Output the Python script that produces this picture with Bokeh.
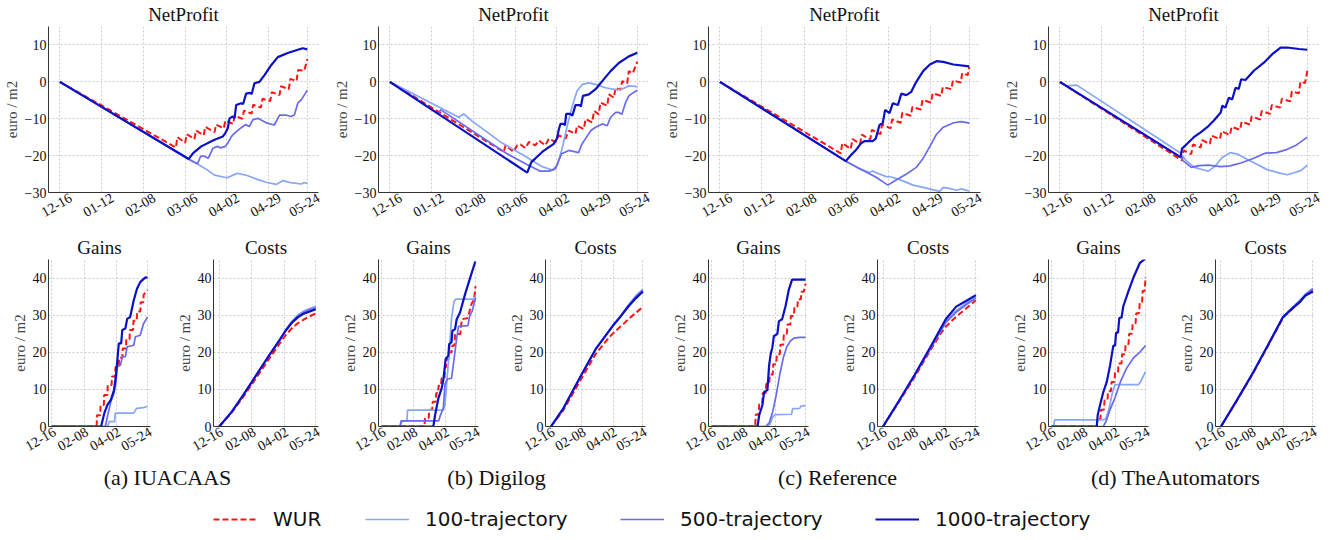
import math
from bokeh.plotting import figure
from bokeh.models import Range1d, FixedTicker, Label, Legend, LegendItem, LinearAxis
from bokeh.layouts import column, row
from bokeh.embed import file_html
from bokeh.resources import INLINE

# ---------------- data (day index from 12-16, value in euro/m2) ----------------
NET_TICKS = [0, 27, 54, 81, 108, 135, 160]
NET_LABELS = ["12-16", "01-12", "02-08", "03-06", "04-02", "04-29", "05-24"]
SUB_TICKS = [0, 54, 108, 160]
SUB_LABELS = ["12-16", "02-08", "04-02", "05-24"]
NET_YTICKS = [-30, -20, -10, 0, 10]
SUB_YTICKS = [0, 10, 20, 30, 40]
SERIES = ["WUR", "100-trajectory", "500-trajectory", "1000-trajectory"]
CAPTIONS = ["(a) IUACAAS", "(b) Digilog", "(c) Reference", "(d) TheAutomators"]

# ---- (a) IUACAAS ----
a_net_wur = [(0,0),(75,-17.8),(76,-15.0),(81,-16.5),(82,-14.2),(87,-15.5),(88,-13.2),(93,-14.5),(94,-12.2),(100,-13.6),(101,-11.6),(106,-12.6),(107,-10.5),(112,-11.4),(113,-9.2),(118,-10.0),(119,-7.8),(124,-8.6),(125,-6.2),(130,-7.0),(131,-4.6),(136,-5.2),(137,-2.8),(142,-3.6),(143,-1.2),(148,-2.0),(149,0.8),(153,0.2),(154,3.2),(158,3.0),(160,6.2)]
a_net_100 = [(0,0),(83,-20.9),(89,-22.3),(95,-23.8),(100,-25.3),(108,-26),(112,-25.3),(115,-24.8),(121,-25.4),(128,-26.5),(134,-27.3),(140,-27.8),(144,-26.8),(149,-27.3),(156,-27.7),(158,-27.3),(160,-27.6)]
a_net_500 = [(0,0),(83,-20.9),(89,-22.2),(91,-20.2),(93,-20.1),(96,-20.7),(99,-18),(102,-17.5),(104,-17.9),(107,-17.5),(108.6,-16.6),(111,-14.8),(113,-13.9),(117,-12.5),(120,-11.6),(122.6,-12.1),(124.7,-10.3),(128,-9.9),(134,-11.2),(138.7,-11.7),(142,-9),(146,-9),(149.5,-9.4),(151.6,-9),(153.8,-5.8),(156,-4.9),(158,-3.6),(160,-2.3)]
a_net_1000 = [(0,0),(83.4,-20.9),(86,-19.4),(91.4,-17.5),(100,-15.7),(105.4,-14.8),(107,-13.9),(108.6,-12.5),(109.7,-9.9),(111.8,-9.4),(112.9,-9.9),(114,-6.3),(117.2,-5.8),(118.5,-6.0),(120.4,-3.2),(123,-3.0),(124,-3.3),(125.8,-0.4),(129,0),(132.3,1.8),(136.6,4.5),(140.9,6.7),(147.3,7.8),(153.8,8.7),(157,9.1),(160,8.8)]
a_gain_wur = [(0,0),(75,0),(75.5,3),(81,3),(81.5,5.8),(87,5.8),(87.5,8.5),(93,8.5),(93.5,11.2),(100,11.2),(100.5,13.5),(106,13.5),(106.5,16),(112,16),(112.5,18.5),(118,18.5),(118.5,21),(124,21),(124.5,23.5),(130,23.5),(130.5,26),(136,26),(136.5,28.5),(142,28.5),(142.5,31),(148,31),(148.5,33.5),(153,33.5),(153.5,35.5),(160,36.8)]
a_gain_100 = [(0,0),(93.3,0),(96,1.3),(105,1.3),(106,3.6),(137,3.6),(142,4.9),(153,5.1),(160,5.4)]
a_gain_500 = [(0,0),(89.5,0),(93,2.7),(98.7,6.7),(104,9),(107,11.6),(109.6,16.1),(115,16.6),(117.8,18.8),(123,18.8),(126,21.5),(137,21.9),(139.7,24.2),(147.8,24.6),(153.3,27.7),(160,29.5)]
a_gain_1000 = [(0,0),(82.4,0),(87.8,3.6),(93,5.8),(98.7,7.2),(104,9.8),(107,13.4),(109.6,17.9),(112,22.4),(116,22.4),(117.8,26),(123,26.4),(126,29),(131,29.5),(137,34),(142.4,37.1),(147.8,38.9),(156,40.1),(160,40.2)]
a_cost_wur = [(0,0),(20,3.6),(40,8.0),(60,12.8),(80,17.6),(100,22.3),(110,24.6),(120,26.4),(130,27.8),(140,28.8),(150,29.7),(160,30.5)]
a_cost_100 = [(0,0),(20,3.8),(40,8.5),(60,13.5),(80,18.5),(100,23.4),(110,26.0),(120,28.3),(130,30.0),(140,31.1),(150,31.8),(160,32.4)]
a_cost_500 = [(0,0),(20,3.8),(40,8.5),(60,13.5),(80,18.5),(100,23.3),(110,25.9),(120,28.1),(130,29.7),(140,30.8),(150,31.5),(160,32.0)]
a_cost_1000 = [(0,0),(20,3.8),(40,8.5),(60,13.5),(80,18.5),(100,23.3),(110,25.8),(120,27.9),(130,29.4),(140,30.4),(150,31.0),(160,31.6)]

# ---- (b) Digilog ----
b_net_wur = [(0,0),(73.7,-19),(74.8,-17.2),(80,-19),(82.3,-17.2),(84.5,-17),(87.7,-18),(89.9,-16.3),(94,-17.2),(96.3,-15.9),(100.6,-17.2),(102.8,-15.4),(107,-16.3),(109.3,-14.5),(113.6,-15.4),(115.7,-13.2),(120,-14.1),(121,-11.9),(125.4,-12.8),(126.5,-10.1),(130.8,-11),(132,-7.9),(135,-8.8),(136.2,-5.6),(140.5,-6.5),(141.6,-3.4),(144.8,-4.3),(145.9,-1.6),(149,-2.2),(150.2,0.2),(153.4,-0.4),(154.5,2.9),(157,2.3),(160,5.5)]
b_net_100 = [(0,0),(44.6,-9.6),(47.8,-8.7),(53,-10.6),(72.6,-16.6),(85.6,-19.7),(98.5,-23),(105,-23.9),(108.2,-22.6),(111.4,-18.1),(114.7,-11.9),(118,-6.5),(121,-2.5),(124.4,-0.7),(128.7,-0.3),(133,-0.7),(139.4,-1.6),(147,-2.2),(150,-2),(154.5,-1.1),(160,-1.3)]
b_net_500 = [(0,0),(31,-8.6),(33,-7.6),(75,-19.3),(88,-22.3),(97,-24.2),(103,-24.2),(107,-23.6),(111,-19.5),(115.7,-18.6),(120,-19),(122,-19.2),(124,-17),(126.5,-15.4),(130,-13.2),(133,-12.3),(137.3,-11.4),(140.5,-11.9),(142.7,-9.6),(146,-8.3),(148,-8.3),(150,-8.8),(152.4,-5.6),(154.5,-3.8),(157.8,-2.8),(160,-2.3)]
b_net_1000 = [(0,0),(88.8,-24.6),(91.6,-21.7),(94,-20.8),(98.5,-19),(102.8,-17.7),(106,-16.8),(108,-15.4),(109.3,-12.8),(110.3,-11.4),(112.5,-11.4),(113.2,-11.8),(114,-8.7),(116.8,-8.7),(118,-9.2),(120,-6.3),(122.6,-6.3),(123.5,-6.7),(124.8,-3.8),(128.7,-3.4),(133,-2),(137.3,0.2),(142.7,2.9),(148,5.1),(154.5,6.9),(160,7.9)]
b_gain_wur = [(0,0),(72.7,0),(73.9,2.2),(80,2.2),(81,4.5),(86,4.5),(87,6.7),(92,6.7),(93,9),(96,9),(97,11),(101,11),(102,13),(107,13),(108,16),(110,16),(111,18.2),(114,18.2),(115,20),(119,20),(120.5,21.8),(124,21.8),(125,24.9),(134,24.9),(136.4,28.9),(146,29.2),(147.7,29.8),(150.6,31.6),(153,33),(156,33.8),(158,35),(160,37.8)]
b_gain_100 = [(0,0),(31,0),(35,1.5),(43,1.5),(44,4.4),(105,4.4),(108,6),(112,14),(116,22),(119,29),(123,33.5),(126,34.3),(158,34.3),(160,35.2)]
b_gain_500 = [(0,0),(31,0),(33,1.5),(97,1.5),(100,3),(105,5),(108,11.5),(112,12.8),(119,13),(124,19),(128,24),(131,27),(147,27.2),(150,29.8),(154,31),(158,33.5),(160,34.7)]
b_gain_1000 = [(0,0),(88,0),(91,3.1),(96.6,7.6),(102,10.2),(105,12.5),(109,18.2),(113.6,19.1),(115,22.2),(119,22.7),(120.5,25.8),(125,26.2),(127.8,28.9),(133.5,30.7),(142,35.6),(150.6,40),(159,44.2),(160,44.4)]
b_cost_wur = [(0,0),(22,4.5),(54,13.2),(78,19.6),(100,23.8),(108,25.1),(120,26.8),(135,28.9),(148,30.7),(160,32.2)]
b_cost_100 = [(0,0),(21.6,4.9),(54,14.2),(78,20.9),(108,27.3),(120,29.6),(135,32.8),(148,35.3),(160,37.0)]
b_cost_500 = [(0,0),(21.6,4.9),(54,14.2),(78,20.9),(108,27.2),(120,29.5),(135,32.6),(148,35.0),(160,36.7)]
b_cost_1000 = [(0,0),(21.6,4.9),(54,14.2),(78,20.9),(108,27.2),(120,29.4),(135,32.4),(148,34.6),(160,36.4)]

# ---- (c) Reference ----
c_net_wur = [(0,0),(77.6,-19.4),(78.5,-16.6),(84,-18.2),(85,-15.5),(90,-16.8),(91,-14.3),(96.5,-15.6),(97.5,-13),(103,-14.2),(104,-11.6),(109.5,-12.6),(110.5,-10.2),(116,-11.1),(117,-8.4),(122.5,-9.2),(123.5,-6.8),(129,-7.5),(130,-4.9),(135.5,-5.6),(136.5,-3.1),(142,-3.8),(143,-1.4),(148.5,-2),(149.5,0.4),(154.5,-0.2),(155.5,2.4),(159,1.8),(160,4)]
c_net_100 = [(0,0),(80.8,-21.5),(89.4,-23.5),(96,-24.6),(98,-24.2),(100,-24.6),(106.7,-25.7),(110,-25.8),(115.3,-26.5),(124,-28),(132.5,-28.8),(141,-29.7),(143.3,-28.6),(147,-28.9),(152,-29.4),(155,-29),(160,-29.6)]
c_net_500 = [(0,0),(80.8,-21.5),(90,-23.6),(100,-25.8),(107.8,-28),(112,-26.9),(120,-24.9),(126,-23.2),(130,-21),(135,-17.3),(139,-14.2),(143,-12.4),(150,-11.1),(155,-10.8),(160,-11.2)]
c_net_1000 = [(0,0),(80.8,-21.5),(84,-19.9),(87.3,-18.5),(90.5,-16.7),(92.7,-16.1),(98,-16.1),(100,-15.4),(102.4,-11.7),(104.5,-11.2),(106,-7.6),(108.8,-8.5),(111,-5.8),(114.2,-6.3),(116.4,-3.2),(119.6,-3.6),(122.8,-2.7),(126,0),(130.4,2.9),(134.7,4.7),(139,5.6),(143.3,5.4),(149.8,4.7),(160,4.2)]
c_gain_wur = [(0,0),(74,0),(75,3.2),(80,3.2),(81,6),(86,6),(87,9),(92,9),(93,11.5),(98,11.5),(99,14),(104,14),(105,16.8),(110,16.8),(111,19.5),(116,19.5),(117,22),(122,22),(123,25),(128,25),(129,27.5),(134,27.5),(135,29.8),(140,29.8),(141,32),(146,32),(147,34.3),(152,34.3),(153,36.3),(157,36.3),(160,38.5)]
c_gain_100 = [(0,0),(95,0),(100,0.8),(104,2.5),(108,3.2),(136,3.3),(138,4.8),(150,4.9),(152,5.5),(160,5.6)]
c_gain_500 = [(0,0),(92,0),(98,1),(104,4),(110,8.5),(116,14),(122,18.5),(128,21.5),(134,23),(140,23.8),(150,24),(160,24)]
c_gain_1000 = [(0,0),(78,0),(81,3.1),(86.5,5.8),(89.3,9.3),(95,9.8),(97.8,16.4),(100.6,19.6),(103.4,21.3),(106,24.4),(111.8,24.9),(114.6,28.4),(120,28.9),(125.8,32.4),(131.5,36.9),(137,39.6),(160,39.6)]
c_cost_wur = [(0,0),(27,6.5),(54,13.2),(81,20.4),(100,25.2),(108,26.9),(126,29.6),(143,31.8),(160,34)]
c_cost_100 = [(0,0),(27,6.8),(54,13.7),(81,21),(108,28.3),(126,31.2),(143,33.2),(160,35)]
c_cost_500 = [(0,0),(27,6.7),(54,13.6),(81,20.8),(108,28),(126,30.8),(143,32.8),(160,34.6)]
c_cost_1000 = [(0,0),(27,6.8),(54,13.8),(81,21.2),(108,28.9),(126,32.3),(143,33.8),(160,35.4)]

# ---- (d) TheAutomators ----
d_net_wur = [(0,0),(79,-21.3),(80,-18.6),(85,-19.6),(86,-17),(91,-17.8),(92,-15.8),(97,-16.8),(98,-14.6),(103.5,-15.5),(104.5,-13.4),(110,-14.4),(111,-12.2),(116.5,-13),(117.5,-10.8),(123,-11.6),(124,-9.4),(129.5,-10.2),(130.5,-7.9),(136,-8.7),(137,-6.3),(142.5,-7),(143.5,-4.6),(149,-5.3),(150,-2.6),(154.5,-3.1),(155.5,0),(158.5,-0.3),(160,3)]
d_net_100 = [(0,0),(4,-1.1),(11,-0.9),(78,-19.3),(82,-21.5),(87,-23.2),(93,-23.9),(96,-24.2),(100,-23),(105,-20.5),(110,-19.2),(115,-19.6),(121,-21),(128,-22.5),(134,-23.8),(141,-24.6),(147,-25.2),(151,-24.7),(156,-24),(160,-22.6)]
d_net_500 = [(0,0),(78,-20.4),(80,-21.5),(85,-23.2),(90,-22.7),(96,-22.6),(104,-23),(110,-22.8),(117,-22),(125,-20.8),(133,-19.3),(140,-19.2),(147,-18.3),(153,-17.1),(160,-15)]
d_net_1000 = [(0,0),(78,-20.4),(79,-18.1),(82.3,-16.8),(86.6,-15),(91,-13.7),(95.3,-12.3),(99.6,-10.5),(104,-8.3),(105,-6.5),(107,-7),(109.3,-4.3),(111.4,-4.8),(113.6,-1.6),(115.7,-1.9),(117.2,0.7),(120,0.5),(125.4,3),(131.9,5.2),(137.3,7.5),(142.7,9.3),(147,9.3),(154.5,8.9),(160,8.7)]
d_gain_wur = [(0,0),(77,0),(78,2),(83,2),(84,4.5),(89,4.5),(90,7),(95,7),(96,9.5),(101,9.5),(102,12),(107,12),(108,14.5),(113,14.5),(114,17),(119,17),(120,19.5),(125,19.5),(126,22.2),(131,22.2),(132,25),(137,25),(138,27.8),(143,27.8),(144,30.5),(149,30.5),(150,33.3),(154,33.3),(155,36.5),(158.5,36.5),(160,40.3)]
d_gain_100 = [(0,0),(3,0),(5,1.8),(86,1.8),(92,2),(98,5),(104,9.5),(108,11.3),(148,11.3),(152,12.2),(160,14.8)]
d_gain_500 = [(0,0),(88,0),(93,1.5),(99,4.4),(108,7.8),(117,12),(128,15.8),(139,18.4),(150,20),(160,21.8)]
d_gain_1000 = [(0,0),(76.7,0),(78.4,3.1),(82.4,5.8),(88,9.3),(93.8,12),(99.4,16.4),(105,21.8),(108,21.8),(109.7,25.3),(113,25.3),(115.3,29.3),(119,29.3),(122,32.4),(130.7,36.4),(139,40),(150,44),(160,45.3)]
d_cost_wur = [(0,0),(27,6.8),(54,13.8),(81,21.5),(108,29.3),(122,31.4),(137,33.6),(147,35.4),(160,36.6)]
d_cost_100 = [(0,0),(27,6.9),(54,14),(81,21.7),(108,29.6),(122,31.8),(137,34),(147,35.7),(160,37.3)]
d_cost_500 = [(0,0),(27,6.9),(54,14),(81,21.7),(108,29.5),(122,31.6),(137,33.8),(147,35.5),(160,37.0)]
d_cost_1000 = [(0,0),(27,6.9),(54,14),(81,21.7),(108,29.5),(122,31.5),(137,33.5),(147,35.3),(160,36.4)]

PANELS = [
    {"net": [a_net_wur, a_net_100, a_net_500, a_net_1000], "gain": [a_gain_wur, a_gain_100, a_gain_500, a_gain_1000], "cost": [a_cost_wur, a_cost_100, a_cost_500, a_cost_1000]},
    {"net": [b_net_wur, b_net_100, b_net_500, b_net_1000], "gain": [b_gain_wur, b_gain_100, b_gain_500, b_gain_1000], "cost": [b_cost_wur, b_cost_100, b_cost_500, b_cost_1000]},
    {"net": [c_net_wur, c_net_100, c_net_500, c_net_1000], "gain": [c_gain_wur, c_gain_100, c_gain_500, c_gain_1000], "cost": [c_cost_wur, c_cost_100, c_cost_500, c_cost_1000]},
    {"net": [d_net_wur, d_net_100, d_net_500, d_net_1000], "gain": [d_gain_wur, d_gain_100, d_gain_500, d_gain_1000], "cost": [d_cost_wur, d_cost_100, d_cost_500, d_cost_1000]},
]

# ---------------- styling / layout ----------------
SERIF = "Liberation Serif"
SANS = "DejaVu Sans"
STYLES = [
    dict(color="#ff1414", line_width=2.0, line_dash="6 3"),
    dict(color="#86a6f6", line_width=1.7, line_dash="solid"),
    dict(color="#6a6af0", line_width=1.7, line_dash="solid"),
    dict(color="#0b10c6", line_width=2.2, line_dash="solid"),
]
LEFT = 48
SHIFT_PX = 12  # Bokeh right-anchors rotated labels; shift anchors so text sits (nearly) centred on ticks
# (frame_width, right_border) per figure
TOP_F = [(270, 12), (270, 12), (272, 20), (270, 17)]
SUB_F = [[(102, 15), (105, 12)], [(100, 19), (100, 15)], [(100, 21), (101, 22)], [(100, 19), (100, 20)]]
TOP_B, TOP_T = 39, 19
SUB_B, SUB_T = 39, 28


def make_plot(kind, fw, right, data):
    if kind == "net":
        fh, top, bottom = 166, TOP_T, TOP_B
        x0, x1 = -7.3, 167.2
        yr = Range1d(-30, 15)
        xt, xl, yt, title = NET_TICKS, NET_LABELS, NET_YTICKS, "NetProfit"
    else:
        fh, top, bottom = 167, SUB_T, SUB_B
        if kind == "gain":
            x0, x1, title = -5.5, 165, "Gains"
        else:
            x0, x1, title = -9.5, 164.5, "Costs"
        yr = Range1d(0, 45)
        xt, xl, yt = SUB_TICKS, SUB_LABELS, SUB_YTICKS
    p = figure(frame_width=fw, frame_height=fh, x_range=Range1d(x0, x1), y_range=yr,
               output_backend="svg", toolbar_location=None,
               min_border_left=LEFT, min_border_right=right,
               min_border_top=top, min_border_bottom=bottom,
               outline_line_color=None, border_fill_color="white",
               background_fill_color="white")
    p.title.text = title
    p.title.align = "center"
    p.title.text_font = SERIF
    p.title.text_font_size = "19px"
    p.title.text_font_style = "normal"
    p.title.text_color = "#111111"
    p.title.standoff = 3
    spine = p.xaxis[0]
    spine.ticker = FixedTicker(ticks=[])
    spine.major_label_standoff = 0
    p.xgrid.ticker = FixedTicker(ticks=xt)
    yax = p.yaxis[0]
    yax.ticker = FixedTicker(ticks=yt)
    yax.axis_label = "euro / m2"
    yax.axis_label_standoff = 2
    yax.axis_label_text_font = SERIF
    yax.axis_label_text_font_size = "15px"
    yax.axis_label_text_font_style = "normal"
    yax.major_label_text_font = SERIF
    yax.major_label_text_font_size = "14px"
    yax.major_label_text_color = "#111111"
    yax.major_label_standoff = 2
    for ax in (spine, yax):
        ax.axis_line_color = "#333333"
        ax.major_tick_line_color = "#333333"
        ax.major_tick_out = 0
        ax.major_tick_in = 0
        ax.minor_tick_out = 0
        ax.minor_tick_line_color = None
    p.grid.grid_line_color = "#cccccc"
    p.grid.grid_line_dash = "2 2"
    p.grid.grid_line_width = 1

    # label axis: rotated date labels; one common anchor shift (limited by the room at the right edge)
    ppd = fw / (x1 - x0)
    shift_px = min(SHIFT_PX, (x1 - max(xt)) * ppd - 0.3)
    shift = shift_px / ppd
    lab_ticks = [round(t + shift, 3) for t in xt]
    lab = LinearAxis(ticker=FixedTicker(ticks=lab_ticks),
                     major_label_overrides={k: l for k, l in zip(lab_ticks, xl)},
                     axis_line_color=None, major_tick_line_color=None, minor_tick_line_color=None,
                     major_tick_out=0, minor_tick_out=0,
                     major_label_orientation=math.pi / 6, major_label_standoff=4,
                     major_label_text_font=SERIF, major_label_text_font_size="14px",
                     major_label_text_color="#111111")
    p.add_layout(lab, "below")

    for pts, st in zip(data, STYLES):
        xs = [q[0] for q in pts]
        ys = [q[1] for q in pts]
        p.line(xs, ys, **st)
    return p


top_row = row(*[make_plot("net", fw, r, PANELS[i]["net"]) for i, (fw, r) in enumerate(TOP_F)], spacing=0)
bottom_figs = []
for i in range(4):
    (fg, rg), (fc, rc) = SUB_F[i]
    bottom_figs.append(make_plot("gain", fg, rg, PANELS[i]["gain"]))
    bottom_figs.append(make_plot("cost", fc, rc, PANELS[i]["cost"]))
bottom_row = row(*bottom_figs, spacing=0)

# footer with captions and legend
FOOT_W, FOOT_H = 1335, 66
foot = figure(width=FOOT_W, height=FOOT_H, x_range=Range1d(0, FOOT_W), y_range=Range1d(0, FOOT_H),
              x_axis_type=None, y_axis_type=None,
              output_backend="svg", toolbar_location=None, min_border=0,
              outline_line_color=None)
foot.grid.visible = False
CAPTION_X = [167, 496, 837, 1175]
for text, x in zip(CAPTIONS, CAPTION_X):
    foot.add_layout(Label(x=x, y=FOOT_H - 12, text=text, text_align="center", text_baseline="middle",
                          text_font=SERIF, text_font_size="22px", text_color="#111111"))
LEG_X = [213, 365, 620, 875]
for name, st, lx in zip(SERIES, STYLES, LEG_X):
    r = foot.line(x=[float("nan")], y=[float("nan")], **st)
    leg = Legend(items=[LegendItem(label=name, renderers=[r])], location=(lx, 0),
                 orientation="horizontal", glyph_width=44, glyph_height=22, label_standoff=16,
                 padding=0, margin=0, border_line_color=None, background_fill_alpha=0,
                 label_text_font=SANS, label_text_font_size="20px", label_text_color="#111111")
    foot.add_layout(leg)

layout = column(top_row, bottom_row, foot, spacing=0)
open("out.html", "w").write(file_html(layout, INLINE))
